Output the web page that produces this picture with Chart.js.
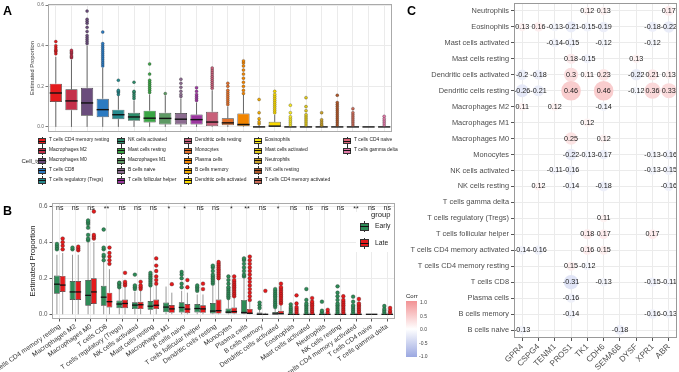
<!DOCTYPE html>
<html>
<head>
<meta charset="utf-8">
<script src="https://cdn.jsdelivr.net/npm/chart.js@4.4.1/dist/chart.umd.min.js"></script>
<style>
  body { margin: 0; background: #fff; font-family: "Liberation Sans", Arial, sans-serif; }
  #page { position: relative; width: 679px; height: 372px; overflow: hidden; }
  canvas { position: absolute; }
  .abs { position: absolute; white-space: nowrap; line-height: 1; }
  .tag { font-weight: bold; font-size: 12.5px; color: #000; }
</style>
</head>
<body>
<div id="page">
  <canvas id="chartA" width="400" height="140" style="left:0;top:0"></canvas>
  <canvas id="chartB" width="400" height="177" style="left:0;top:195px"></canvas>
  <canvas id="chartC" width="279" height="372" style="left:400px;top:0"></canvas>
  <div class="abs tag" style="left:3px;top:5.4px">A</div>
  <div class="abs tag" style="left:3px;top:205.4px">B</div>
  <div class="abs tag" style="left:407px;top:5.4px">C</div>
  <div id="legendA"></div>
  <div id="legendB"></div>
  <div id="legendC"></div>
</div>
<script>
// cell types in plotting order (panels A and B)
const cellTypes = [
  "T cells CD4 memory resting", "Macrophages M2", "Macrophages M0", "T cells CD8",
  "T cells regulatory (Tregs)", "NK cells activated", "Mast cells resting", "Macrophages M1",
  "B cells naive", "T cells follicular helper", "Dendritic cells resting", "Monocytes",
  "Plasma cells", "B cells memory", "Dendritic cells activated", "Eosinophils",
  "Mast cells activated", "Neutrophils", "NK cells resting", "T cells CD4 memory activated",
  "T cells CD4 naive", "T cells gamma delta"
];
const cellColors = [
  "#E41A1C", "#C4304A", "#6A4C7C", "#2C7BC2", "#278A8E", "#2C8D6A", "#3AA544", "#5E9A64",
  "#8C6C90", "#9C38A0", "#C8607A", "#E3702A", "#F28500", "#F0A800", "#F8D800", "#F8E820",
  "#E0C81A", "#C8A028", "#B0582A", "#C86A58", "#DC6478", "#E07AA8"
];

// panel A: all samples
const allQ1 = [0.123, 0.082, 0.055, 0.048, 0.038, 0.03, 0.022, 0.012, 0.012, 0.012, 0.004, 0.008, 0.003, 0, 0, 0, 0, 0, 0, 0, 0, 0];
const allMedian = [0.167, 0.128, 0.118, 0.085, 0.06, 0.049, 0.043, 0.042, 0.038, 0.036, 0.024, 0.02, 0.012, 0, 0.004, 0, 0, 0, 0, 0, 0, 0];
const allQ3 = [0.213, 0.185, 0.193, 0.139, 0.085, 0.07, 0.08, 0.07, 0.068, 0.061, 0.075, 0.043, 0.066, 0.003, 0.025, 0.002, 0.002, 0.001, 0.002, 0.002, 0, 0.002];
const allUpper = [0.345, 0.33, 0.4, 0.29, 0.155, 0.13, 0.16, 0.155, 0.14, 0.12, 0.18, 0.1, 0.16, 0.008, 0.06, 0.005, 0.005, 0.003, 0.005, 0.005, 0, 0.004];
const allOutliers = [
  [0.36, 0.37, 0.375, 0.38, 0.39, 0.4, 0.42],
  [0.34, 0.345, 0.35, 0.36, 0.365, 0.37, 0.377],
  [0.41, 0.42, 0.43, 0.44, 0.45, 0.47, 0.49, 0.51, 0.52, 0.53, 0.57],
  [0.3, 0.31, 0.32, 0.33, 0.34, 0.35, 0.36, 0.37, 0.38, 0.39, 0.4, 0.41, 0.467],
  [0.16, 0.17, 0.175, 0.18, 0.23],
  [0.14, 0.15, 0.16, 0.17, 0.175, 0.22],
  [0.17, 0.18, 0.19, 0.2, 0.21, 0.22, 0.23, 0.26, 0.31],
  [0.164],
  [0.15, 0.16, 0.175, 0.195, 0.215, 0.235],
  [0.13, 0.14, 0.15, 0.16, 0.175, 0.193],
  [0.19, 0.2, 0.21, 0.22, 0.23, 0.24, 0.25, 0.26, 0.27, 0.28, 0.29],
  [0.11, 0.12, 0.13, 0.14, 0.15, 0.16, 0.17, 0.18, 0.2, 0.215],
  [0.165, 0.18, 0.2, 0.22, 0.24, 0.26, 0.28, 0.3, 0.315, 0.325],
  [0.015, 0.025, 0.04, 0.07, 0.135],
  [0.07, 0.08, 0.09, 0.1, 0.11, 0.12, 0.13, 0.14, 0.15, 0.16, 0.175],
  [0.01, 0.02, 0.03, 0.04, 0.05, 0.07, 0.107],
  [0.01, 0.02, 0.03, 0.04, 0.05, 0.06, 0.08, 0.1, 0.144],
  [0.008, 0.015, 0.025, 0.035, 0.07],
  [0.01, 0.02, 0.03, 0.04, 0.05, 0.06, 0.07, 0.08, 0.09, 0.1, 0.11, 0.12, 0.156],
  [0.01, 0.02, 0.03, 0.04, 0.05, 0.06, 0.07, 0.09],
  [],
  [0.01, 0.02, 0.03, 0.04, 0.052]
];
const propTicks = [0, 0.2, 0.4, 0.6];

// panel B: Early vs Late
const groups = ["Early", "Late"];
const groupColors = ["#2E8B57", "#E41A1C"];
const earlyQ1 = [0.114, 0.08, 0.048, 0.048, 0.034, 0.029, 0.025, 0.011, 0.01, 0.01, 0.005, 0.004, 0.003, 0, 0, 0, 0, 0, 0, 0, 0, 0];
const earlyMedian = [0.167, 0.124, 0.105, 0.095, 0.057, 0.051, 0.045, 0.04, 0.038, 0.032, 0.018, 0.012, 0.01, 0, 0.002, 0, 0, 0, 0, 0, 0, 0];
const earlyQ3 = [0.215, 0.185, 0.19, 0.158, 0.076, 0.067, 0.074, 0.065, 0.067, 0.057, 0.063, 0.032, 0.08, 0.01, 0.013, 0.002, 0.002, 0, 0.002, 0.002, 0, 0.002];
const earlyUpper = [0.33, 0.33, 0.4, 0.29, 0.14, 0.125, 0.15, 0.154, 0.13, 0.11, 0.16, 0.08, 0.2, 0.025, 0.03, 0.005, 0.005, 0.002, 0.005, 0.005, 0, 0.004];
const earlyOutliers = [
  [0.36, 0.37, 0.38, 0.39], [0.36, 0.37], [0.41, 0.42, 0.44, 0.48, 0.5, 0.51, 0.52],
  [0.3, 0.32, 0.33, 0.36, 0.37, 0.47], [0.15, 0.16, 0.17, 0.175], [0.14, 0.15, 0.16, 0.22],
  [0.16, 0.17, 0.18, 0.19, 0.2, 0.21, 0.22, 0.23], [], [0.15, 0.17, 0.2, 0.22, 0.235],
  [0.13, 0.14, 0.15, 0.16], [0.17, 0.18, 0.19, 0.2, 0.21, 0.22, 0.24, 0.26, 0.27],
  [0.09, 0.1, 0.11, 0.12, 0.13, 0.14, 0.15, 0.17, 0.19, 0.21], [0.21, 0.22, 0.24, 0.26, 0.28, 0.3, 0.31],
  [0.035, 0.05, 0.065], [0.04, 0.05, 0.06, 0.07, 0.08, 0.09, 0.1, 0.11, 0.12, 0.13, 0.14],
  [0.01, 0.02, 0.03, 0.04, 0.055], [0.01, 0.02, 0.03, 0.04, 0.05, 0.06, 0.08, 0.14],
  [0.01, 0.02, 0.07], [0.01, 0.02, 0.03, 0.04, 0.05, 0.06, 0.08, 0.1, 0.12, 0.155],
  [0.01, 0.02, 0.03, 0.04, 0.05, 0.07, 0.098], [], [0.01, 0.02, 0.03, 0.046]
];
const lateQ1 = [0.124, 0.08, 0.057, 0.038, 0.034, 0.029, 0.029, 0.008, 0.006, 0.008, 0.004, 0.004, 0.002, 0, 0, 0, 0, 0, 0, 0, 0, 0];
const lateMedian = [0.162, 0.124, 0.124, 0.07, 0.06, 0.053, 0.05, 0.03, 0.029, 0.03, 0.02, 0.015, 0.006, 0, 0.003, 0, 0, 0, 0, 0, 0, 0];
const lateQ3 = [0.213, 0.185, 0.2, 0.12, 0.082, 0.07, 0.082, 0.052, 0.057, 0.05, 0.082, 0.038, 0.03, 0.003, 0.02, 0.002, 0.002, 0, 0.002, 0.002, 0, 0.002];
const lateUpper = [0.34, 0.33, 0.4, 0.25, 0.15, 0.13, 0.16, 0.12, 0.12, 0.11, 0.19, 0.09, 0.07, 0.008, 0.05, 0.005, 0.005, 0.002, 0.005, 0.005, 0, 0.004];
const lateOutliers = [
  [0.36, 0.38, 0.4, 0.42], [0.355, 0.365, 0.375], [0.42, 0.43, 0.44, 0.57],
  [0.28, 0.3, 0.32, 0.34, 0.37], [0.16, 0.17, 0.18, 0.23], [0.14, 0.15, 0.16, 0.18],
  [0.17, 0.19, 0.21, 0.24, 0.27, 0.31], [0.167], [0.15, 0.19], [0.14, 0.17],
  [0.2, 0.21, 0.22, 0.23, 0.24, 0.25, 0.26, 0.27, 0.28, 0.29],
  [0.1, 0.11, 0.12, 0.13, 0.14, 0.15, 0.16, 0.17, 0.18, 0.19, 0.21],
  [0.08, 0.1, 0.12, 0.14, 0.16, 0.18, 0.2, 0.22, 0.24, 0.26, 0.28, 0.3, 0.32],
  [0.13], [0.06, 0.07, 0.08, 0.09, 0.1, 0.11, 0.12, 0.13, 0.14, 0.15, 0.17],
  [0.01, 0.02, 0.03, 0.04, 0.06, 0.105], [0.01, 0.02, 0.03, 0.04, 0.05, 0.06, 0.07, 0.09],
  [0.01, 0.025], [0.01, 0.02, 0.03, 0.04, 0.05, 0.06, 0.07, 0.08, 0.1],
  [0.01, 0.02, 0.03, 0.04, 0.05, 0.06, 0.085], [], [0.01, 0.02, 0.035]
];
const signif = ["ns", "ns", "ns", "**", "ns", "ns", "ns", "*", "*", "ns", "ns", "*", "**", "ns", "*", "ns", "ns", "ns", "ns", "**", "ns", "ns"];

// panel C: correlation of genes with immune cells (blank = not shown)
const genes = ["GPR4", "CSPG4", "TENM1", "PROS1", "TK1", "CDH6", "SEMA6B", "DYSF", "XPR1", "ABR"];
const corrCells = [
  "Neutrophils", "Eosinophils", "Mast cells activated", "Mast cells resting",
  "Dendritic cells activated", "Dendritic cells resting", "Macrophages M2", "Macrophages M1",
  "Macrophages M0", "Monocytes", "NK cells activated", "NK cells resting", "T cells gamma delta",
  "T cells regulatory (Tregs)", "T cells follicular helper", "T cells CD4 memory activated",
  "T cells CD4 memory resting", "T cells CD8", "Plasma cells", "B cells memory", "B cells naive"
];
const _ = null;
const corrValues = [
  [_, _, _, _, 0.12, 0.13, _, _, _, 0.17],
  [0.13, 0.16, -0.13, -0.21, -0.15, -0.19, _, _, -0.18, -0.22],
  [_, _, -0.14, -0.15, _, -0.12, _, _, -0.12, _],
  [_, _, _, 0.18, -0.15, _, _, 0.13, _, _],
  [-0.2, -0.18, _, 0.3, 0.11, 0.23, _, -0.22, 0.21, 0.13],
  [-0.26, -0.21, _, 0.46, _, 0.46, _, -0.12, 0.36, 0.33],
  [0.11, _, 0.12, _, _, -0.14, _, _, _, _],
  [_, _, _, _, 0.12, _, _, _, _, _],
  [_, _, _, 0.25, _, 0.12, _, _, _, _],
  [_, _, _, -0.22, -0.13, -0.17, _, _, -0.13, -0.16],
  [_, _, -0.11, -0.16, _, _, _, _, -0.13, -0.15],
  [_, 0.12, _, -0.14, _, -0.18, _, _, _, -0.16],
  [_, _, _, _, _, _, _, _, _, _],
  [_, _, _, _, _, 0.11, _, _, _, _],
  [_, _, _, _, 0.18, 0.17, _, _, 0.17, _],
  [-0.14, -0.16, _, _, 0.16, 0.15, _, _, _, _],
  [_, _, _, 0.15, -0.12, _, _, _, _, _],
  [_, _, _, -0.31, _, -0.13, _, _, -0.15, -0.11],
  [_, _, _, -0.16, _, _, _, _, _, _],
  [_, _, _, -0.14, _, _, _, _, -0.16, -0.13],
  [-0.13, _, _, _, _, _, -0.18, _, _, _]
];
const corrLegendTicks = ["1.0", "0.5", "0.0", "-0.5", "-1.0"];

Chart.defaults.font.family = '"Liberation Sans", Arial, sans-serif';
Chart.defaults.color = "#4d4d4d";
Chart.defaults.animation = false;
Chart.defaults.events = [];
Chart.defaults.plugins.legend.display = false;
Chart.defaults.plugins.tooltip.enabled = false;

function fixSize(size) {
  return (scale) => {
    if (scale.isHorizontal()) scale.height = size;
    else scale.width = size;
    scale.paddingLeft = scale.paddingRight = scale.paddingTop = scale.paddingBottom = 0;
  };
}

// whiskers, medians and outlier dots on top of floating bars
const boxExtras = {
  id: "boxExtras",
  beforeDatasetsDraw(chart, args, opts) {
    const ctx = chart.ctx, y = chart.scales.y;
    chart.data.datasets.forEach((ds, d) => {
      chart.getDatasetMeta(d).data.forEach((bar, i) => {
        ctx.save();
        ctx.strokeStyle = opts.whiskerColor;
        ctx.lineWidth = opts.whiskerWidth;
        ctx.beginPath();
        ctx.moveTo(bar.x, y.getPixelForValue(ds.upper[i]));
        ctx.lineTo(bar.x, y.getPixelForValue(ds.data[i][1]));
        ctx.moveTo(bar.x, y.getPixelForValue(ds.data[i][0]));
        ctx.lineTo(bar.x, y.getPixelForValue(0));
        ctx.stroke();
        ctx.restore();
      });
    });
  },
  afterDatasetsDraw(chart, args, opts) {
    const ctx = chart.ctx, y = chart.scales.y;
    chart.data.datasets.forEach((ds, d) => {
      chart.getDatasetMeta(d).data.forEach((bar, i) => {
        ctx.save();
        ctx.strokeStyle = "#111";
        ctx.lineWidth = opts.medianWidth;
        const ym = y.getPixelForValue(ds.medians[i]);
        ctx.beginPath();
        ctx.moveTo(bar.x - bar.width / 2, ym);
        ctx.lineTo(bar.x + bar.width / 2, ym);
        ctx.stroke();
        ctx.fillStyle = Array.isArray(ds.dotColor) ? ds.dotColor[i] : ds.dotColor;
        ctx.strokeStyle = "rgba(30,30,30,0.7)";
        ctx.lineWidth = 0.4;
        ds.outliers[i].forEach((v) => {
          ctx.beginPath();
          ctx.arc(bar.x, y.getPixelForValue(v), opts.dotRadius, 0, Math.PI * 2);
          ctx.fill();
          ctx.stroke();
        });
        ctx.restore();
      });
    });
  }
};

const frame = {
  id: "frame",
  afterDraw(chart, args, opts) {
    const a = chart.chartArea, ctx = chart.ctx;
    ctx.save();
    ctx.strokeStyle = opts.color;
    ctx.lineWidth = 1;
    ctx.strokeRect(a.left + 0.5, a.top + 0.5, a.width - 1, a.height - 1);
    ctx.restore();
  }
};

const sigLabels = {
  id: "sigLabels",
  afterDatasetsDraw(chart) {
    const ctx = chart.ctx, x = chart.scales.x;
    ctx.save();
    ctx.font = '7px "Liberation Sans", Arial, sans-serif';
    ctx.fillStyle = "#222";
    ctx.textAlign = "center";
    ctx.textBaseline = "middle";
    signif.forEach((s, i) => {
      ctx.fillText(s, x.getPixelForValue(i), chart.chartArea.top + (s === "ns" ? 5.5 : 6.5));
    });
    ctx.restore();
  }
};

const corrText = {
  id: "corrText",
  afterDatasetsDraw(chart) {
    const ctx = chart.ctx, ds = chart.data.datasets[0];
    ctx.save();
    ctx.font = '7.2px "Liberation Sans", Arial, sans-serif';
    ctx.fillStyle = "#1a1a1a";
    ctx.textAlign = "center";
    ctx.textBaseline = "middle";
    chart.getDatasetMeta(0).data.forEach((pt, i) => {
      ctx.fillText(String(ds.data[i].v), pt.x, pt.y);
    });
    ctx.restore();
  }
};

// Panel A
new Chart(document.getElementById("chartA"), {
  type: "bar",
  data: {
    labels: cellTypes,
    datasets: [{
      data: cellTypes.map((c, i) => [allQ1[i], allQ3[i]]),
      medians: allMedian, upper: allUpper, outliers: allOutliers, dotColor: cellColors,
      backgroundColor: cellColors,
      borderColor: "#333",
      borderWidth: 0.7,
      borderSkipped: false,
      barPercentage: 0.78,
      categoryPercentage: 1
    }]
  },
  options: {
    responsive: false,
    devicePixelRatio: 1,
    layout: { padding: { left: 29, right: 8, top: 4, bottom: 0 }, autoPadding: false },
    scales: {
      x: {
        grid: { color: "#ebebeb", offset: false, drawTicks: false },
        border: { display: false },
        ticks: { display: false },
        afterFit: fixSize(8)
      },
      y: {
        min: -0.025, max: 0.605,
        afterBuildTicks: (s) => { s.ticks = propTicks.map((v) => ({ value: v })); },
        grid: { color: "#ebebeb", tickLength: 2.5, tickColor: "#777" },
        border: { display: false },
        ticks: { font: { size: 4.8 }, padding: 1.5, color: "#666", callback: (v) => v.toFixed(1) },
        title: { display: true, text: "Estimated Proportion", font: { size: 5.8 }, padding: 0, color: "#333" },
        afterFit: fixSize(19)
      }
    },
    plugins: {
      boxExtras: { whiskerColor: "#444", whiskerWidth: 0.8, medianWidth: 1.4, dotRadius: 1.5 },
      frame: { color: "#aaa" }
    }
  },
  plugins: [boxExtras, frame]
});

// Panel B
new Chart(document.getElementById("chartB"), {
  type: "bar",
  data: {
    labels: cellTypes,
    datasets: [
      {
        label: groups[0],
        data: cellTypes.map((c, i) => [earlyQ1[i], earlyQ3[i]]),
        medians: earlyMedian, upper: earlyUpper, outliers: earlyOutliers, dotColor: groupColors[0],
        backgroundColor: groupColors[0]
      },
      {
        label: groups[1],
        data: cellTypes.map((c, i) => [lateQ1[i], lateQ3[i]]),
        medians: lateMedian, upper: lateUpper, outliers: lateOutliers, dotColor: groupColors[1],
        backgroundColor: groupColors[1]
      }
    ]
  },
  options: {
    responsive: false,
    devicePixelRatio: 1,
    datasets: { bar: { borderColor: "#333", borderWidth: 0.7, borderSkipped: false, barPercentage: 1, categoryPercentage: 0.74 } },
    layout: { padding: { left: 28.5, right: 5, top: 8, bottom: 0 }, autoPadding: false },
    scales: {
      x: {
        grid: { color: "#ebebeb", offset: false, tickLength: 2.5, tickColor: "#555" },
        border: { display: false },
        ticks: { autoSkip: false, minRotation: 35, maxRotation: 35, font: { size: 6.7 }, color: "#333", padding: 1 },
        afterFit: fixSize(53)
      },
      y: {
        min: -0.026, max: 0.617,
        afterBuildTicks: (s) => { s.ticks = propTicks.map((v) => ({ value: v })); },
        grid: { color: "#ebebeb", tickLength: 2.5, tickColor: "#555" },
        border: { display: false },
        ticks: { font: { size: 6.3 }, padding: 2, color: "#555", callback: (v) => v.toFixed(1) },
        title: { display: true, text: "Estimated Proportion", font: { size: 7.6 }, padding: 0, color: "#222" },
        afterFit: fixSize(23.5)
      }
    },
    plugins: {
      boxExtras: { whiskerColor: "#999", whiskerWidth: 1, medianWidth: 1.3, dotRadius: 1.9 },
      frame: { color: "#aaa" }
    }
  },
  plugins: [boxExtras, sigLabels, frame]
});

// Panel C
function corrColor(v) {
  const base = v > 0 ? [232, 56, 61] : [73, 97, 201];
  const t = Math.abs(v) * 0.55;
  return "rgb(" + base.map((c) => Math.round(255 + (c - 255) * t)).join(",") + ")";
}
const corrPoints = [];
corrCells.forEach((cell, r) => {
  genes.forEach((gene, c) => {
    const v = corrValues[r][c];
    if (v !== null) corrPoints.push({ x: gene, y: cell, r: 2 + Math.abs(v) * 17, v: v });
  });
});

new Chart(document.getElementById("chartC"), {
  type: "bubble",
  data: {
    datasets: [{
      data: corrPoints,
      backgroundColor: corrPoints.map((p) => corrColor(p.v)),
      borderWidth: 0
    }]
  },
  options: {
    responsive: false,
    devicePixelRatio: 1,
    layout: { padding: { left: 0, right: 2, top: 3, bottom: 0 }, autoPadding: false },
    scales: {
      x: {
        type: "category", labels: genes, offset: true,
        grid: { color: "#ebebeb", offset: false, tickLength: 3, tickColor: "#555" },
        border: { display: false },
        ticks: { autoSkip: false, minRotation: 45, maxRotation: 45, font: { size: 8.2 }, color: "#4d4d4d", padding: 1 },
        afterFit: fixSize(34)
      },
      y: {
        type: "category", labels: corrCells, offset: true,
        grid: { color: "#ebebeb", offset: false, tickLength: 3, tickColor: "#555" },
        border: { display: false },
        ticks: { autoSkip: false, font: { size: 7.4 }, color: "#4d4d4d", padding: 2 },
        afterFit: fixSize(114)
      }
    },
    plugins: { frame: { color: "#999" } }
  },
  plugins: [corrText, frame]
});

// legend for panel A (five columns, filled column by column)
const keyX = [38, 117, 184, 254, 343];
let htmlA = '<div class="abs" style="left:21.5px;top:158px;font-size:6px;color:#222">Cell_type</div>';
cellTypes.forEach((name, i) => {
  const col = Math.floor(i / 5), row = i % 5;
  const kx = keyX[col], cy = 141 + row * 9.9;
  htmlA += '<div class="abs" style="left:' + (kx + 3.6) + 'px;top:' + (cy - 4.5) + 'px;width:0.7px;height:9px;background:#333"></div>';
  htmlA += '<div class="abs" style="left:' + kx + 'px;top:' + (cy - 3) + 'px;width:7.8px;height:6px;box-sizing:border-box;border:0.6px solid #333;background:' + cellColors[i] + '"></div>';
  htmlA += '<div class="abs" style="left:' + kx + 'px;top:' + (cy - 0.5) + 'px;width:7.8px;height:1px;background:#111"></div>';
  htmlA += '<div class="abs" style="left:' + (kx + 11) + 'px;top:' + (cy - 2.6) + 'px;font-size:4.9px;color:#222">' + name + '</div>';
});
document.getElementById("legendA").innerHTML = htmlA;

// legend for panel B (inside the plot, top right)
let htmlB = '<div class="abs" style="left:356px;top:212px;width:38px;height:40px;background:#fff"></div>';
htmlB += '<div class="abs" style="left:371px;top:211px;font-size:7.6px;color:#222">group</div>';
groups.forEach((g, i) => {
  const cy = 226.5 + i * 16.5;
  htmlB += '<div class="abs" style="left:' + 364 + 'px;top:' + (cy - 5.5) + 'px;width:0.8px;height:11px;background:#333"></div>';
  htmlB += '<div class="abs" style="left:360px;top:' + (cy - 4) + 'px;width:8.5px;height:8px;box-sizing:border-box;border:0.6px solid #333;background:' + groupColors[i] + '"></div>';
  htmlB += '<div class="abs" style="left:360px;top:' + (cy - 0.5) + 'px;width:8.5px;height:1px;background:#111"></div>';
  htmlB += '<div class="abs" style="left:375px;top:' + (cy - 3.5) + 'px;font-size:6.8px;color:#222">' + g + '</div>';
});
document.getElementById("legendB").innerHTML = htmlB;

// colour bar for panel C
const top0 = 302.7, step = 13.5;
let htmlC = '<div class="abs" style="left:406px;top:293px;font-size:6px;color:#222">Corr</div>';
htmlC += '<div class="abs" style="left:406px;top:301px;width:11px;height:56px;background:linear-gradient(to bottom,' + corrColor(1) + ',#fff,' + corrColor(-1) + ')"></div>';
corrLegendTicks.forEach((t, i) => {
  htmlC += '<div class="abs" style="left:' + (t[0] === "-" ? 419 : 420) + 'px;top:' + (top0 + i * step - 2.5) + 'px;font-size:5px;color:#444">' + t + '</div>';
});
document.getElementById("legendC").innerHTML = htmlC;
</script>
</body>
</html>
